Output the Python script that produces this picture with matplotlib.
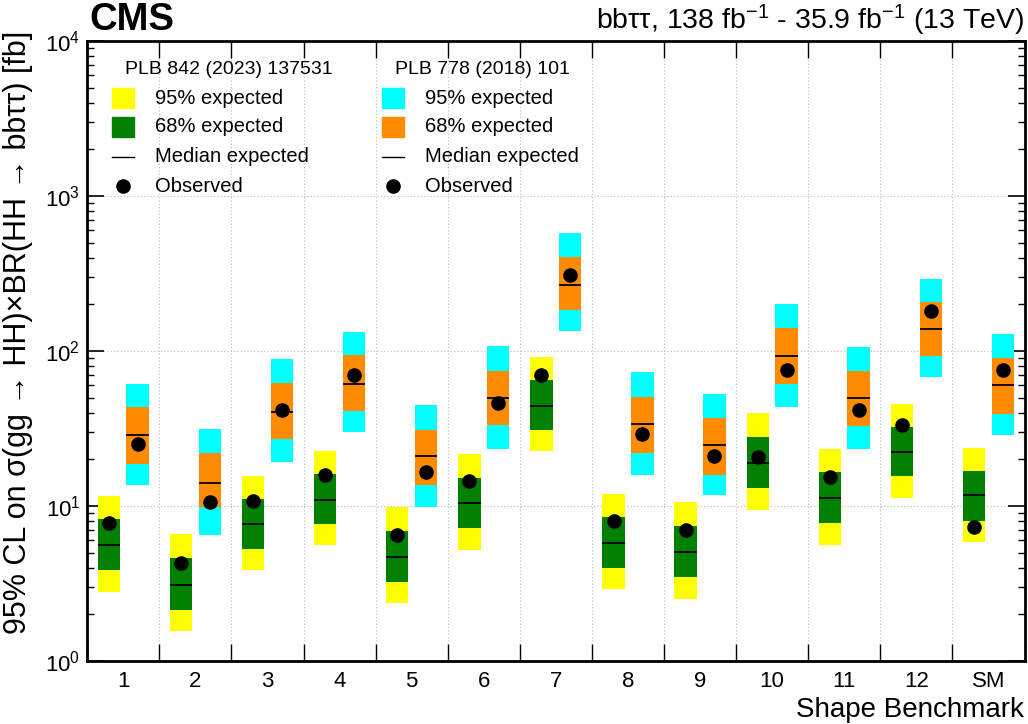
import matplotlib
matplotlib.use("Agg")
import matplotlib.pyplot as plt
import numpy as np
from matplotlib.patches import Rectangle
from matplotlib.lines import Line2D
from matplotlib.ticker import LogLocator, FixedLocator, NullFormatter, FixedFormatter

plt.rcParams['font.family'] = ['Liberation Sans', 'DejaVu Sans']
plt.rcParams['mathtext.fontset'] = 'custom'
plt.rcParams['mathtext.rm'] = 'Liberation Sans'
plt.rcParams['mathtext.it'] = 'Liberation Sans:italic'
plt.rcParams['mathtext.bf'] = 'Liberation Sans:bold'

labels = ["1", "2", "3", "4", "5", "6", "7", "8", "9", "10", "11", "12", "SM"]

# PLB 842 (2023) 137531
new_lo95 = [2.79, 1.55, 3.85, 5.6, 2.36, 5.2, 22.6, 2.9, 2.52, 9.46, 5.6, 11.3, 5.86]
new_lo68 = [3.85, 2.13, 5.28, 7.65, 3.23, 7.18, 30.8, 3.96, 3.5, 13.0, 7.77, 15.5, 8.0]
new_med = [5.58, 3.1, 7.6, 11.0, 4.71, 10.4, 44.2, 5.75, 5.07, 18.9, 11.3, 22.3, 11.7]
new_hi68 = [8.2, 4.6, 11.1, 16.1, 6.93, 15.2, 64.7, 8.45, 7.46, 27.9, 16.6, 32.5, 16.8]
new_hi95 = [11.6, 6.6, 15.7, 22.6, 9.86, 21.6, 91.0, 11.9, 10.6, 39.6, 23.4, 45.5, 23.6]
new_obs = [7.8, 4.27, 10.8, 15.8, 6.47, 14.6, 69.7, 8.0, 7.03, 20.6, 15.4, 33.3, 7.36]

# PLB 778 (2018) 101
old_lo95 = [13.7, 6.5, 19.3, 30.2, 9.9, 23.4, 134, 15.8, 11.8, 43.5, 23.2, 67.6, 28.8]
old_lo68 = [18.7, 9.8, 27.0, 40.8, 13.7, 33.1, 183, 22.0, 15.8, 61.0, 32.8, 93.3, 39.4]
old_med = [28.7, 14.1, 40.2, 61.0, 20.9, 50.0, 268, 33.7, 24.6, 93.3, 49.5, 139, 60.4]
old_hi68 = [43.3, 21.9, 62.2, 94.2, 31.1, 74.3, 402, 50.3, 36.8, 141, 74.6, 207, 89.8]
old_hi95 = [61.5, 31.4, 88.4, 133, 44.6, 108, 574, 72.8, 52.8, 201, 106, 293, 129]
old_obs = [25.0, 10.6, 41.8, 70.3, 16.6, 46.4, 309, 29.1, 20.9, 75.0, 41.4, 180, 75.0]

YELLOW = "#FFFF00"
GREEN = "#008000"
CYAN = "#00FFFF"
ORANGE = "#FF8C00"

W, H = 1028, 724
fig = plt.figure(figsize=(W / 100, H / 100), dpi=100)
AX_L, AX_R, AX_T, AX_B = 87.2, 1024.5, 41, 661
ax = fig.add_axes([AX_L / W, 1 - AX_B / H, (AX_R - AX_L) / W, (AX_B - AX_T) / H])

x = np.arange(len(labels))
bw = 0.31


def draw_set(xc, lo95, lo68, med, hi68, hi95, obs, c95, c68):
    lo95, lo68, med, hi68, hi95, obs = map(np.asarray, (lo95, lo68, med, hi68, hi95, obs))
    ax.bar(xc, hi95 - lo95, bottom=lo95, width=bw, color=c95, linewidth=0, zorder=2)
    ax.bar(xc, hi68 - lo68, bottom=lo68, width=bw, color=c68, linewidth=0, zorder=3)
    ax.hlines(med, xc - bw / 2, xc + bw / 2, color="black", lw=1.3, zorder=4)
    ax.plot(xc, obs, "o", color="black", ms=9.5, zorder=5, linestyle="none")


draw_set(x - 0.2, new_lo95, new_lo68, new_med, new_hi68, new_hi95, new_obs, YELLOW, GREEN)
draw_set(x + 0.2, old_lo95, old_lo68, old_med, old_hi68, old_hi95, old_obs, CYAN, ORANGE)

ax.set_yscale("log")
ax.set_ylim(1, 1e4)
ax.set_xlim(-0.5, len(labels) - 0.5)

# x ticks: boundaries as major (no labels), centers as minor with labels
ax.xaxis.set_major_locator(FixedLocator(np.arange(-0.5, len(labels), 1.0)))
ax.xaxis.set_major_formatter(NullFormatter())
ax.xaxis.set_minor_locator(FixedLocator(x))
ax.xaxis.set_minor_formatter(FixedFormatter(labels))
ax.tick_params(axis="x", which="major", direction="in", length=12, width=1, top=True, bottom=True)
ax.tick_params(axis="x", which="minor", length=0, labelsize=16, pad=7)

ax.yaxis.set_major_locator(LogLocator(base=10, numticks=10))
ax.yaxis.set_minor_locator(LogLocator(base=10, subs=np.arange(2, 10), numticks=20))
ax.yaxis.set_minor_formatter(NullFormatter())
ax.tick_params(axis="y", which="major", direction="in", length=12, width=1.2, left=True, right=True, labelsize=16, pad=5)
ax.tick_params(axis="y", which="minor", direction="in", length=5, width=1, left=True, right=True)

ax.grid(True, which="major", axis="both", linestyle=(0, (1, 2)), color="#bbbbbb", linewidth=0.8, zorder=0)
ax.set_axisbelow(True)

for s in ax.spines.values():
    s.set_linewidth(2)

ax.set_ylabel("95% CL on σ(gg → HH)×BR(HH → bbττ) [fb]", fontsize=22)
ax.yaxis.set_label_coords(-(AX_L - 33) / (AX_R - AX_L), (AX_B - 332) / (AX_B - AX_T))
ax.set_xlabel("Shape Benchmark", fontsize=20, loc="right", labelpad=4)

fig.text(89 / W, 1 - 20 / H, "CMS", fontsize=27.5, fontweight="bold", ha="left", va="center")
fig.text(1024 / W, 1 - 20 / H, "bbττ, 138 fb$^{-1}$ - 35.9 fb$^{-1}$ (13 TeV)",
         fontsize=20.5, ha="right", va="center")


# manual legend (figure pixel coordinates)
def px(xp, yp):
    return xp / W, 1 - yp / H


def legend_block(x_head, x_patch, x_text, header, c95, c68):
    fig.text(*px(x_head, 70), header, fontsize=14, ha="left", va="center")
    rows = [98, 127, 157, 186]
    fig.patches.append(Rectangle(px(x_patch, rows[0] + 10), 22 / W, 20 / H, color=c95,
                                 transform=fig.transFigure, figure=fig))
    fig.patches.append(Rectangle(px(x_patch, rows[1] + 10), 22 / W, 20 / H, color=c68,
                                 transform=fig.transFigure, figure=fig))
    x0, y0 = px(x_patch, rows[2])
    x1, _ = px(x_patch + 22, rows[2])
    fig.lines.append(Line2D([x0, x1], [y0, y0], color="black", lw=1, transform=fig.transFigure, figure=fig))
    xm, ym = px(x_patch + 11, rows[3])
    fig.lines.append(Line2D([xm], [ym], marker="o", ms=9.5, color="black", linestyle="none",
                            transform=fig.transFigure, figure=fig))
    for r, t in zip(rows, ["95% expected", "68% expected", "Median expected", "Observed"]):
        fig.text(*px(x_text, r), t, fontsize=14.5, ha="left", va="center")


legend_block(125, 112, 155, "PLB 842 (2023) 137531", YELLOW, GREEN)
legend_block(395, 382, 425, "PLB 778 (2018) 101", CYAN, ORANGE)

fig.savefig("out.png", dpi=100)
